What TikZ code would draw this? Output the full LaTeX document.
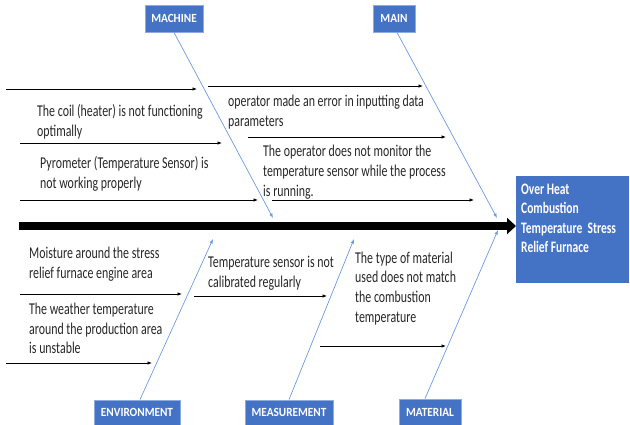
\documentclass[tikz,border=0pt]{standalone}
\usepackage{fontspec}
\setmainfont{Carlito}[FakeStretch=0.72]
\newfontfamily\lblfont{Carlito}[FakeStretch=0.9]
\usetikzlibrary{arrows.meta}
\definecolor{boxblue}{HTML}{4472C4}
\definecolor{bonecol}{HTML}{6A9BE0}
\definecolor{txt}{HTML}{262626}
\begin{document}
\begin{tikzpicture}[x=1pt,y=-1pt,
 cat/.style={fill=boxblue, draw=boxblue!60!white, line width=0.8pt, text=white, font=\lblfont\bfseries\fontsize{12.5}{14}\selectfont, inner sep=0, minimum height=27},
 cause/.style={anchor=base west, align=left, inner sep=0, text=txt, font=\fontsize{16.5}{19.8}\selectfont},
 sub/.style={draw=black, line width=0.7pt, -{Latex[length=4.5pt,width=3.5pt]}},
 bone/.style={draw=bonecol, line width=0.7pt, -{Latex[length=4.5pt,width=3.5pt]}},
]
\useasboundingbox (0,0) rectangle (630,425);
% category boxes
\node[cat, minimum width=58] (machine) at (174,18.5) {MACHINE};
\node[cat, minimum width=42] (main) at (394,18.5) {MAIN};
\node[cat, minimum width=86, minimum height=25] (env) at (137,412.5) {ENVIRONMENT};
\node[cat, minimum width=88, minimum height=25] (meas) at (289,412.5) {MEASUREMENT};
\node[cat, minimum width=62, minimum height=26] (mat) at (430,412) {MATERIAL};
% effect
\node[fill=boxblue, minimum width=113, minimum height=107, inner sep=0, anchor=north west] (effect) at (516,176) {};
\node[anchor=base west, align=left, inner sep=0, text=white, font=\bfseries\fontsize{16}{19.6}\selectfont] (efftext) at (521,252.8) {Over Heat\\Combustion\\Temperature\ \ Stress\\Relief Furnace};
% spine
\coordinate (tail) at (19,226);
\draw[line width=8pt, -{Triangle[length=9pt,width=16pt]}] (tail) -- (effect.west |- tail);
% bones
\coordinate (mH) at (273,218);
\draw[bone] (machine.south) -- (mH);
\coordinate (aH) at (497,218);
\draw[bone] ([xshift=3pt]main.south) -- (aH);
\coordinate (eH) at (213,239);
\draw[bone] ([xshift=3pt]env.north) -- (eH);
\coordinate (sH) at (354,239);
\draw[bone] (meas.north) -- (sH);
\coordinate (tH) at (498,230);
\draw[bone] ([xshift=-5pt]mat.north) -- (tH);
% sub-cause arrows
\coordinate (a1s) at (6,89);    \coordinate (a1e) at (197,89);
\coordinate (a2s) at (20,143);  \coordinate (a2e) at (222,143);
\coordinate (a3s) at (20,200);  \coordinate (a3e) at (258,200);
\coordinate (a4s) at (208,86);  \coordinate (a4e) at (423,86);
\coordinate (a5s) at (248,137); \coordinate (a5e) at (446,137);
\coordinate (a6s) at (272,200); \coordinate (a6e) at (474,200);
\coordinate (a7s) at (20,294);  \coordinate (a7e) at (182,294);
\coordinate (a8s) at (6,363);   \coordinate (a8e) at (152,363);
\coordinate (a9s) at (194,296); \coordinate (a9e) at (327,296);
\coordinate (a10s) at (320,346); \coordinate (a10e) at (446,346);
\foreach \i in {1,...,10} {\draw[sub] (a\i s) -- (a\i e);}
% cause texts (anchored at the baseline of their last line)
\node[cause] (t1) at (37,136.5) {The coil (heater) is not functioning\\optimally};
\node[cause] (t2) at (40,188.3) {Pyrometer (Temperature Sensor) is\\not working properly};
\node[cause] (t3) at (228,126.5) {operator made an error in inputting data\\parameters};
\node[cause] (t4) at (263,196.3) {The operator does not monitor the\\temperature sensor while the process\\is running.};
\node[cause] (t5) at (29,278.1) {Moisture around the stress\\relief furnace engine area};
\node[cause] (t6) at (29,353.9) {The weather temperature\\around the production area\\is unstable};
\node[cause] (t7) at (208,287.8) {Temperature sensor is not\\calibrated regularly};
\node[cause] (t8) at (355,322.4) {The type of material\\used does not match\\the combustion\\temperature};
\end{tikzpicture}
\end{document}
